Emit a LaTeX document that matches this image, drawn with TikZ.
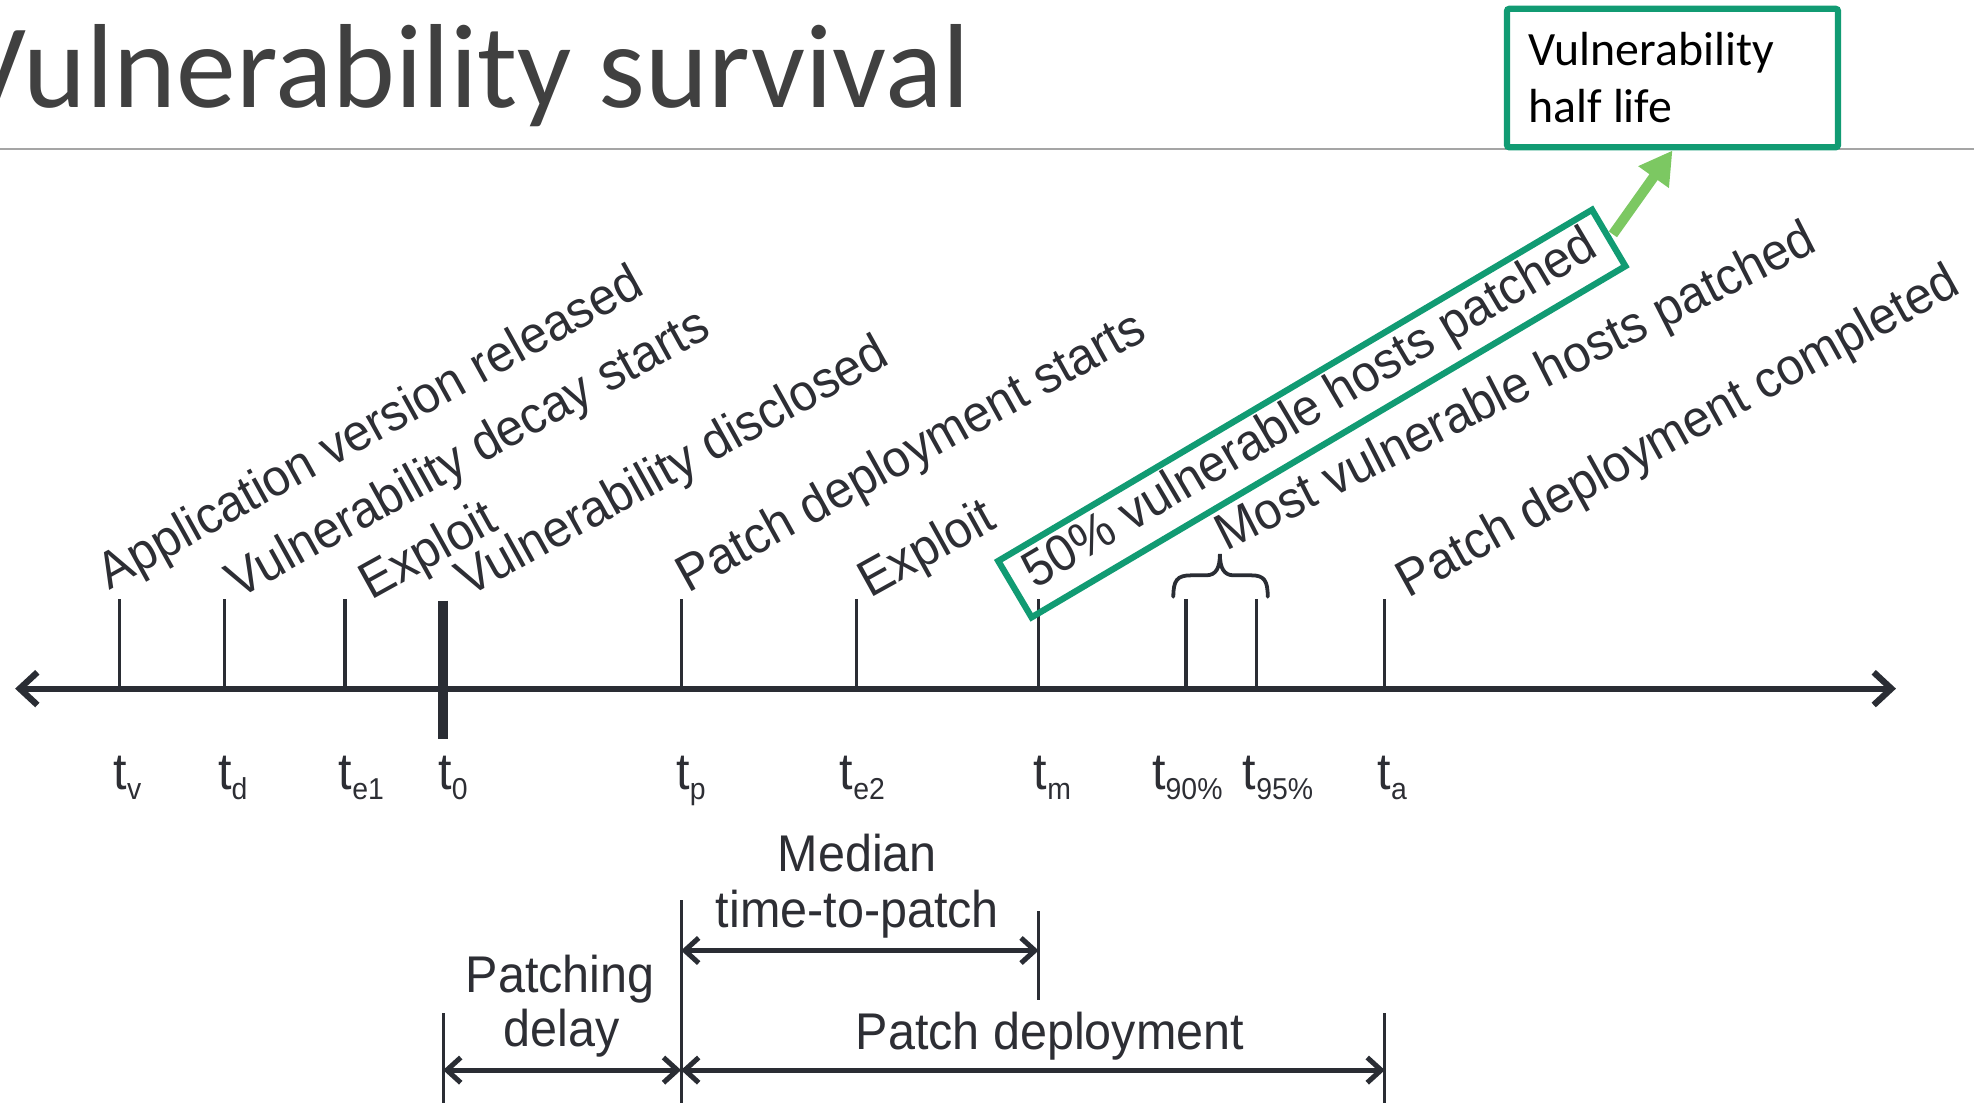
\documentclass[tikz,border=0pt]{standalone}
\usepackage{fontspec}
\setmainfont{Liberation Sans}
\newfontfamily\titlefont{Carlito}
\newfontfamily\labelfont[FakeStretch=0.94]{Liberation Sans}
\newfontfamily\eventfont[FakeStretch=0.95]{Liberation Sans}
\usetikzlibrary{arrows.meta}

\definecolor{ink}{RGB}{42,45,52}
\definecolor{txt}{RGB}{45,46,52}
\definecolor{boxgreen}{RGB}{17,155,115}
\definecolor{arrowgreen}{RGB}{124,200,98}
\definecolor{titlegray}{RGB}{64,64,64}
\definecolor{rulegray}{RGB}{165,165,165}

% time label: t with a lowered small index
\newcommand{\tidx}[1]{t\raisebox{-8pt}{\fontsize{24}{26}\selectfont #1}}

\begin{document}
\begin{tikzpicture}[x=1pt,y=-1pt,
  lbl/.style={font=\labelfont\fontsize{41}{47}\selectfont, text=txt, inner sep=0pt},
  slanted/.style={font=\eventfont\fontsize{41}{47}\selectfont, text=txt, inner sep=0pt,
    rotate=29, anchor=base west},
  tlabel/.style={lbl, anchor=base west},
  tick/.style={draw=ink, line width=2.5pt},
  extline/.style={draw=ink, line width=2.5pt},
  dimarrow/.style={draw=ink, line width=4pt,
    {Straight Barb[length=11pt,width=20pt]}-{Straight Barb[length=11pt,width=20pt]}},
  callout/.style={font=\titlefont\fontsize{38}{45}\selectfont, text=black,
    inner sep=0pt, anchor=base west},
]
\useasboundingbox (0,0) rectangle (1568,876);

% heading and rule
\node[anchor=base west, inner sep=0pt, text=titlegray,
  font=\titlefont\fontsize{95}{110}\selectfont] (title) at (-33,85) {Vulnerability survival};
\coordinate (ruleL) at (0,118);
\coordinate (ruleR) at (1568,118);
\draw[rulegray, line width=1.5pt] (ruleL) -- (ruleR);

% events on the time axis
\coordinate (tv)  at (95,547);
\coordinate (td)  at (178,547);
\coordinate (te1) at (274,547);
\coordinate (t0)  at (352,547);
\coordinate (tp)  at (541,547);
\coordinate (te2) at (680,547);
\coordinate (tm)  at (825,547);
\coordinate (t90) at (942,547);
\coordinate (t95) at (998,547);
\coordinate (ta)  at (1100,547);

\foreach \e in {tv,td,te1,tp,te2,tm,t90,t95,ta}
  \draw[tick] (\e) -- ++(0,-71);
\coordinate (t0top) at (352,477);
\coordinate (t0bot) at (352,587);
\draw[ink, line width=8pt] (t0top) -- (t0bot);

% the time axis
\coordinate (axL) at (12,547);
\coordinate (axR) at (1506,547);
\draw[ink, line width=5pt,
  {Straight Barb[length=14pt,width=26pt]}-{Straight Barb[length=14pt,width=26pt]}] (axL) -- (axR);

% event descriptions
\node[slanted] (lv)  at (87,469)    {Application version released};
\node[slanted] (ld)  at (189,476)   {Vulnerability decay starts};
\node[slanted] (le1) at (295,477)   {Exploit};
\node[slanted] (l0)  at (372,475)   {Vulnerability disclosed};
\node[slanted] (lp)  at (547,471.5) {Patch deployment starts};
\node[slanted] (le2) at (691,475.5) {Exploit};
\node[slanted, rotate=1.6] (lm) at (822,468) {50\% vulnerable hosts patched};
\node[slanted, rotate=-2] (most) at (974,438.5) {Most vulnerable hosts patched};
\node[slanted] (la)  at (1119,475.5) {Patch deployment completed};

% highlight round the median event
\node[draw=boxgreen, line width=5pt, rotate=30.6, minimum width=548pt,
  minimum height=52pt, inner sep=0pt] (fifty) at (1042,328.5) {};

% brace over the 90% and 95% marks
\draw[ink, line width=3pt, line cap=round]
  (932,474) .. controls (932,461) and (935,457) .. (946,457) -- (958,457)
  .. controls (966,457) and (969,451) .. (969,440)
  .. controls (969,451) and (972,457) .. (980,457) -- (994,457)
  .. controls (1004,457) and (1007,461) .. (1007,474);

% time symbols below the axis
\node[tlabel] (sv)  at (90,627)   {\tidx{v}};
\node[tlabel] (sd)  at (173,627)  {\tidx{d}};
\node[tlabel] (se1) at (269,627)  {\tidx{e1}};
\node[tlabel] (s0)  at (348,627)  {\tidx{0}};
\node[tlabel] (sp)  at (537,627)  {\tidx{p}};
\node[tlabel] (se2) at (667,627)  {\tidx{e2}};
\node[tlabel] (sm)  at (821,627)  {\tidx{m}};
\node[tlabel] (s90) at (915,627)  {\tidx{90\%}};
\node[tlabel] (s95) at (987,627)  {\tidx{95\%}};
\node[tlabel] (sa)  at (1094,627) {\tidx{a}};

% intervals
\coordinate (pTop) at (541,715);
\coordinate (pBot) at (541,876);
\coordinate (mTop) at (825,724);
\coordinate (mBot) at (825,794);
\coordinate (dTop) at (352,805);
\coordinate (dBot) at (352,876);
\coordinate (aTop) at (1100,805);
\coordinate (aBot) at (1100,876);
\draw[extline] (pTop) -- (pBot);
\draw[extline] (mTop) -- (mBot);
\draw[extline] (dTop) -- (dBot);
\draw[extline] (aTop) -- (aBot);

\draw[dimarrow] (pTop |- 0,755) -- (mTop |- 0,755);
\draw[dimarrow] (dTop |- 0,850) -- (pTop |- 0,850);
\draw[dimarrow] (pTop |- 0,850) -- (aTop |- 0,850);

\node[lbl, anchor=base] (median) at (681,692) {Median};
\node[lbl, anchor=base] (ttp) at (681,737) {time-to-patch};
\node[lbl, anchor=base] (patching) at (445,788) {Patching};
\node[lbl, anchor=base] (delay) at (446,831) {delay};
\node[lbl, anchor=base] (deploy) at (834,834) {Patch deployment};

% callout
\node[draw=boxgreen, line width=5pt, fill=white, rounded corners=2pt,
  minimum width=263pt, minimum height=110pt, inner sep=0pt] (half) at (1328.5,62) {};
\node[callout] (halfA) at (1214,52) {Vulnerability};
\node[callout] (halfB) at (1214,97) {half life};
\draw[arrowgreen, line width=8pt, shorten <=2pt, -{Triangle[length=26pt,width=28pt]}]
  (fifty.east) -- (half.south);
\end{tikzpicture}
\end{document}
